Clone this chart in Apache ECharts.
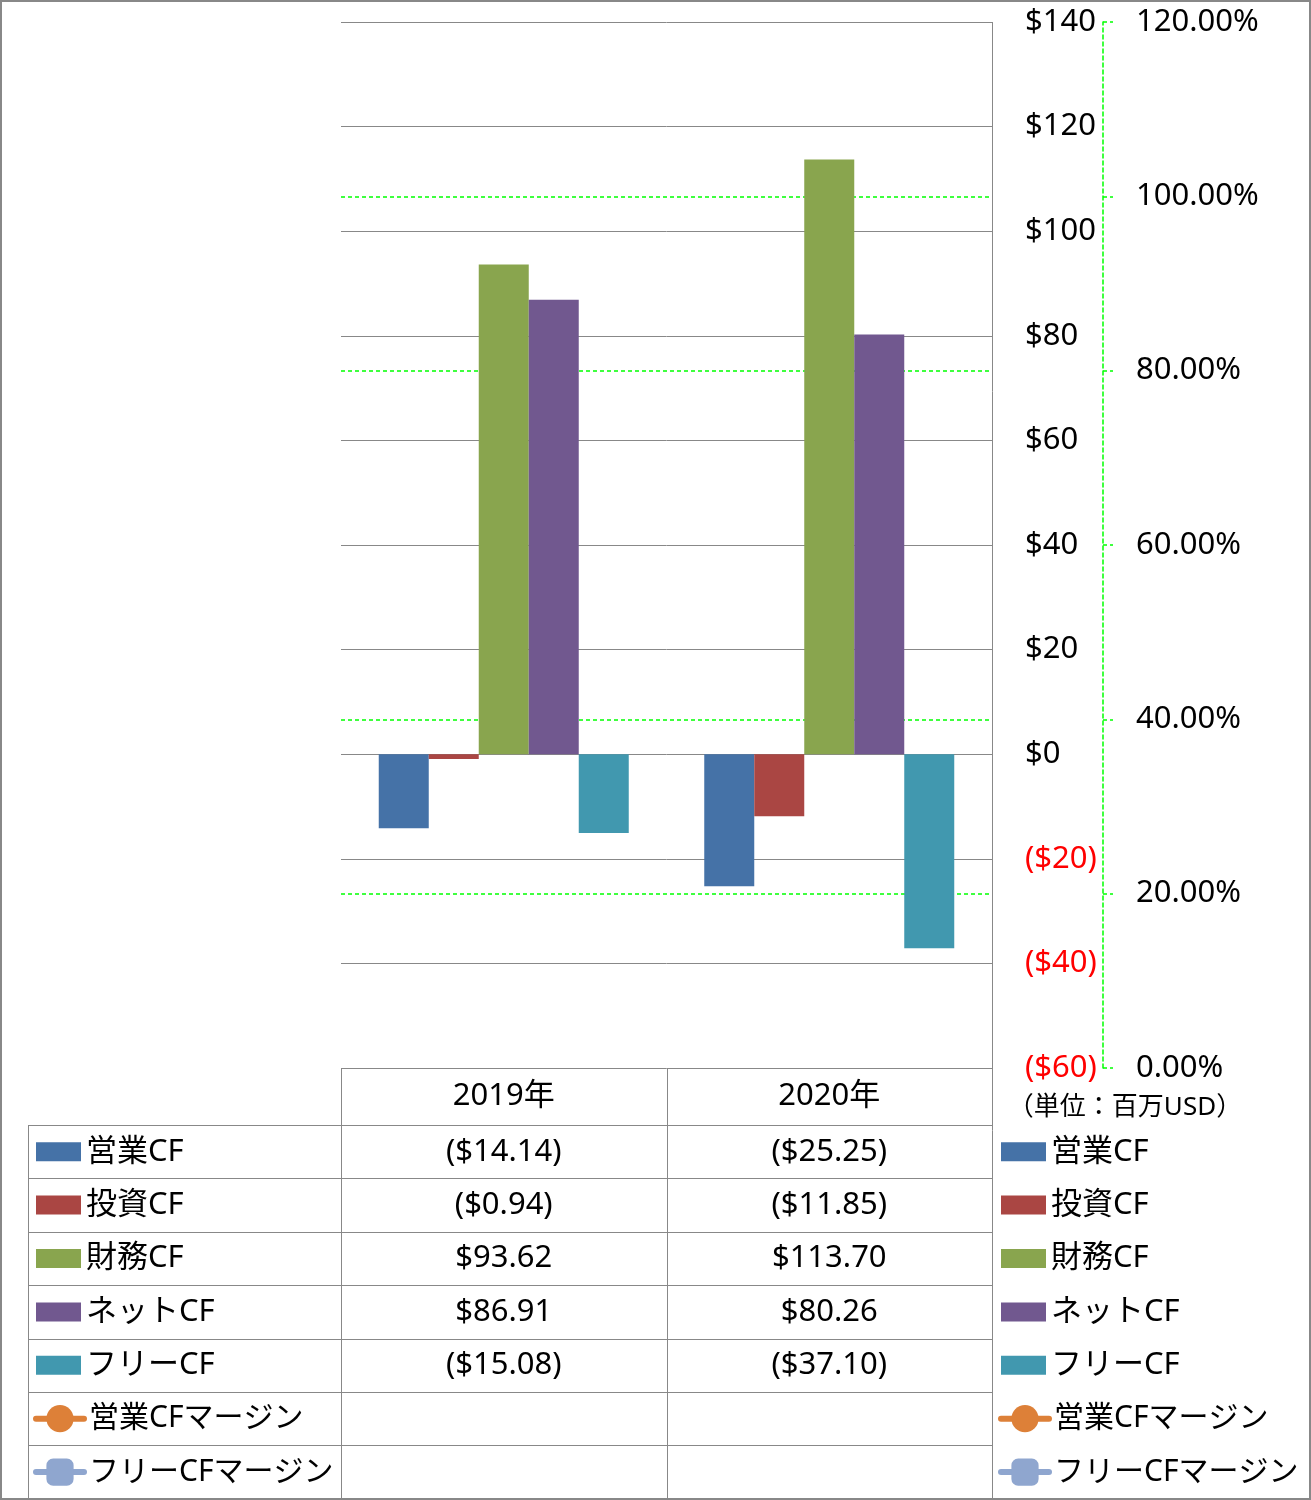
<!DOCTYPE html>
<html>
<head>
<meta charset="utf-8">
<script src="https://cdn.jsdelivr.net/npm/echarts@6/dist/echarts.min.js"></script>
<style>
html,body{margin:0;padding:0;background:#fff;}
#chart{width:1311px;height:1500px;}
</style>
</head>
<body>
<div id="chart"></div>
<script>
// ---- data ----
var categories = ['2019年', '2020年'];
var barNames = ['営業CF', '投資CF', '財務CF', 'ネットCF', 'フリーCF'];
var lineNames = ['営業CFマージン', 'フリーCFマージン'];
var opCF = [-14.14, -25.25];
var invCF = [-0.94, -11.85];
var finCF = [93.62, 113.70];
var netCF = [86.91, 80.26];
var freeCF = [-15.08, -37.10];
var opCFMargin = [null, null];
var freeCFMargin = [null, null];
var unitLabel = '（単位：百万USD）';

var barValues = [opCF, invCF, finCF, netCF, freeCF];
var lineValues = [opCFMargin, freeCFMargin];
var barColors = ['#4572A7', '#AA4643', '#89A54E', '#71588F', '#4198AF'];
var lineColors = ['#DD8038', '#8FA6CF'];

var FONT = "'Noto Sans', 'Noto Sans CJK JP', sans-serif";
var FS = 31;
var GRAY = '#888888';
var GREEN = '#00FF00';

// layout
var W = 1311, H = 1500;
var gL = 341, gR = 992, gT = 22, gB = 1068;
var tableLeft = 28;
var rowTop = 1125;
var rowH = 53.4;

function money(v) {
  var s = '$' + Math.abs(v).toFixed(2);
  return v < 0 ? '(' + s + ')' : s;
}

var series = [];
barNames.forEach(function (n, i) {
  series.push({
    name: n, type: 'bar', yAxisIndex: 0,
    data: barValues[i], barWidth: 50, barGap: '0%',
    itemStyle: { color: barColors[i] }
  });
});
lineNames.forEach(function (n, i) {
  series.push({
    name: n, type: 'line', yAxisIndex: 1,
    data: lineValues[i],
    symbol: i === 0 ? 'circle' : 'roundRect',
    symbolSize: 26,
    itemStyle: { color: lineColors[i] },
    lineStyle: { color: lineColors[i], width: 6, cap: 'round' }
  });
});

// table graphics
var graphics = [];
function line(x1, y1, x2, y2) {
  graphics.push({ type: 'line', silent: true, z: 10,
    shape: { x1: x1, y1: y1, x2: x2, y2: y2 },
    style: { stroke: GRAY, lineWidth: 1 } });
}
function text(x, y, t, opts) {
  graphics.push({ type: 'text', silent: true, z: 10, x: x, y: y,
    style: Object.assign({ text: t, fill: '#000', font: FS + 'px ' + FONT,
      align: 'center', verticalAlign: 'middle' }, opts || {}) });
}
var colW = (gR - gL) / categories.length;
// header row
line(gL, gB + 0.5, gR, gB + 0.5);
categories.forEach(function (c, j) {
  text(gL + colW * (j + 0.5), (gB + rowTop) / 2, c);
});
var nRows = barNames.length + lineNames.length;
for (var r = 0; r < nRows; r++) {
  var yy = Math.round(rowTop + rowH * r) + 0.5;
  line(tableLeft, yy, gR, yy);
}
// verticals
line(tableLeft + 0.5, rowTop, tableLeft + 0.5, H);
line(gL + 0.5, gB, gL + 0.5, H);
for (var j = 1; j < categories.length; j++) line(Math.round(gL + colW * j) + 0.5, gB, Math.round(gL + colW * j) + 0.5, H);
line(gR + 0.5, gT, gR + 0.5, H);
// values
barValues.forEach(function (arr, r) {
  arr.forEach(function (v, j) {
    if (v !== null) text(gL + colW * (j + 0.5), rowTop + rowH * (r + 0.5), money(v));
  });
});
// unit label
text(1125, 1108, unitLabel, { font: '26px ' + FONT });
// outer border
graphics.push({ type: 'rect', silent: true, z: 20,
  shape: { x: 1, y: 1, width: W - 2, height: H - 2 },
  style: { fill: 'none', stroke: GRAY, lineWidth: 2 } });

function legendCfg(names, left, top, iw, ih, isBar) {
  var cfg = {
    data: names, orient: 'vertical', left: left, top: top,
    itemWidth: iw, itemHeight: ih, itemGap: 0, padding: 0,
    selectedMode: false,
    textStyle: { fontSize: isBar ? FS : 30, fontFamily: FONT, color: '#000', lineHeight: rowH }
  };
  if (isBar) cfg.icon = 'rect';
  else cfg.lineStyle = { width: 6, cap: 'round' };
  return cfg;
}

var option = {
  animation: false,
  backgroundColor: '#fff',
  textStyle: { fontFamily: FONT },
  grid: { left: gL, right: W - gR, top: gT, bottom: H - gB, containLabel: false },
  legend: [
    legendCfg(barNames, 36, rowTop, 45, 19, true),
    legendCfg(lineNames, 33, rowTop + rowH * barNames.length, 48, 34, false),
    legendCfg(barNames, 1001, rowTop, 45, 19, true),
    legendCfg(lineNames, 998, rowTop + rowH * barNames.length, 48, 34, false)
  ],
  xAxis: {
    type: 'category', data: categories,
    axisLine: { show: false }, axisTick: { show: false }, axisLabel: { show: false },
    splitLine: { show: false }
  },
  yAxis: [
    {
      type: 'value', position: 'right', min: -60, max: 140, interval: 20,
      axisLine: { show: false }, axisTick: { show: false },
      axisLabel: {
        margin: 33, fontSize: FS, fontFamily: FONT,
        formatter: function (v) { return v < 0 ? '($' + Math.abs(v) + ')' : '$' + v; },
        color: function (v) { return Number(v) < 0 ? '#FF0000' : '#000000'; }
      },
      splitLine: { show: true, showMinLine: false, lineStyle: { color: GRAY, width: 1, type: 'solid' } }
    },
    {
      type: 'value', position: 'right', offset: 111, min: 0, max: 1.2, interval: 0.2,
      axisLine: { show: true, lineStyle: { color: GREEN, width: 1.5, type: [4, 3] } },
      axisTick: { show: true, inside: false, length: 10, lineStyle: { color: GREEN, width: 1.5, type: [4, 3] } },
      axisLabel: {
        margin: 33, fontSize: FS, fontFamily: FONT, color: '#000',
        formatter: function (v) { return (v * 100).toFixed(2) + '%'; }
      },
      splitLine: { show: true, showMinLine: false, showMaxLine: false,
        lineStyle: { color: [GREEN, GREEN, 'rgba(0,0,0,0)', GREEN, GREEN, GREEN, GREEN], width: 1.5, type: [4, 3] } }
    }
  ],
  series: series,
  graphic: graphics
};

var chart = echarts.init(document.getElementById('chart'), null, { renderer: 'canvas' });
chart.setOption(option);
</script>
</body>
</html>
